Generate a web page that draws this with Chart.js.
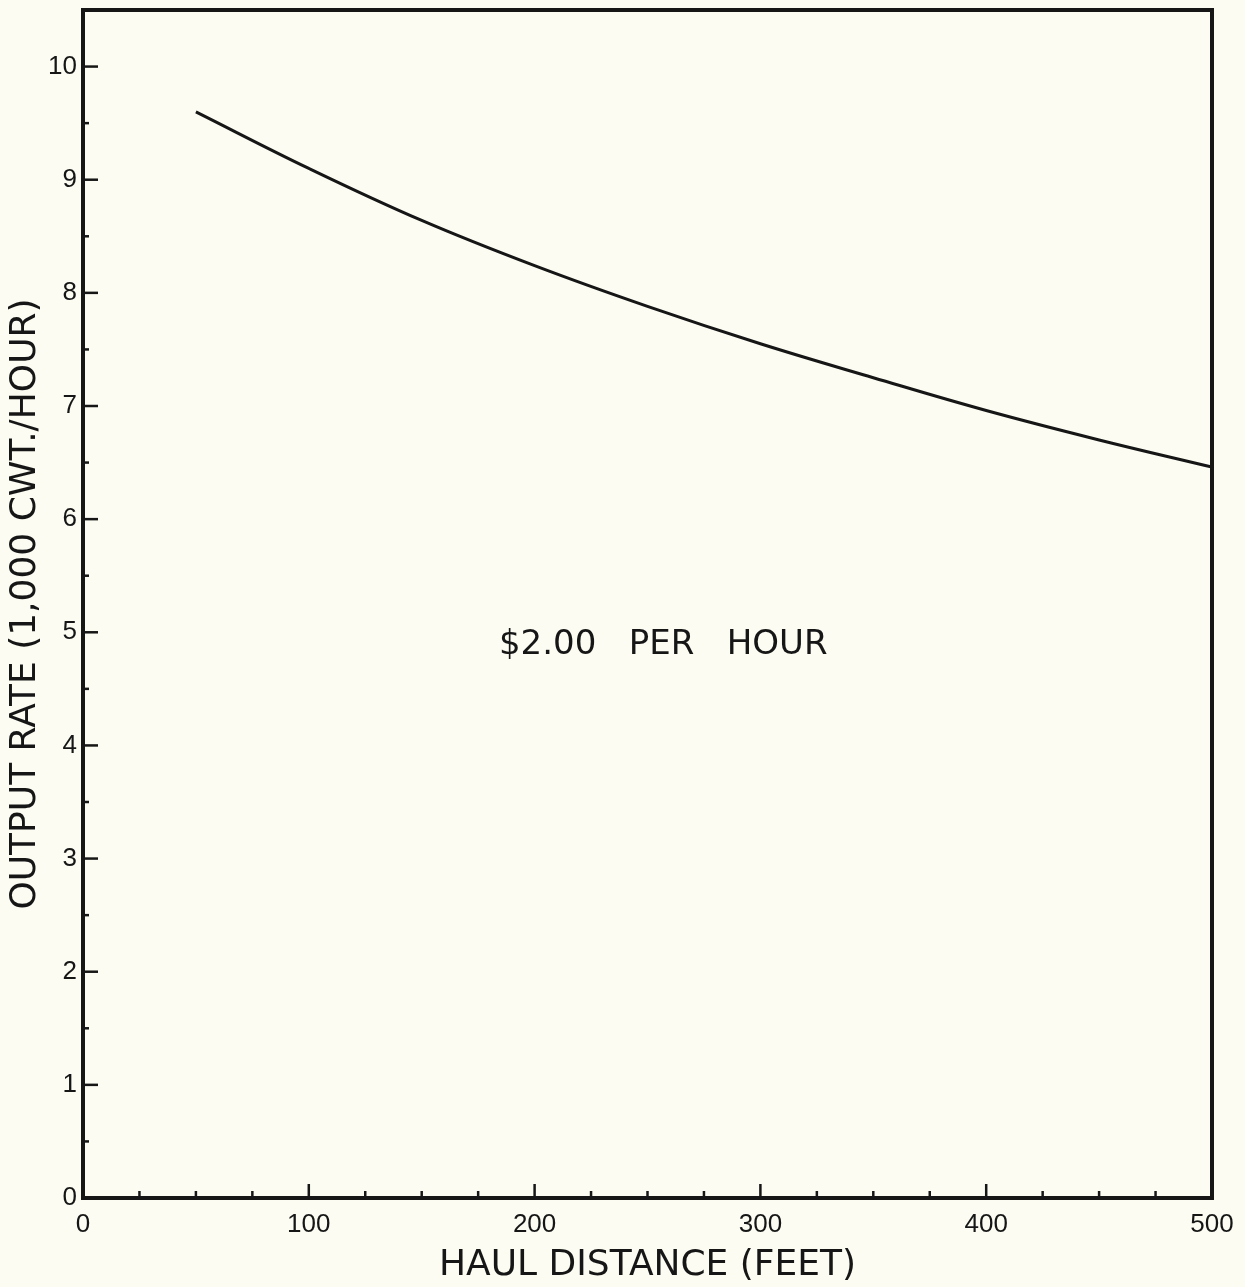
<!DOCTYPE html>
<html>
<head>
<meta charset="utf-8">
<title>Output rate vs haul distance</title>
<script src="https://cdn.jsdelivr.net/npm/chart.js@4.4.1/dist/chart.umd.min.js"></script>
<style>
  html, body { margin: 0; padding: 0; background: #fcfcf3; }
  #wrap { width: 1245px; height: 1287px; }
</style>
</head>
<body>
<div id="wrap"><canvas id="chart" width="1245" height="1287"></canvas></div>
<script>
// Haul distance (feet) and output rate (1,000 cwt./hour)
const haulDistance = [50, 100, 150, 200, 250, 300, 350, 400, 450, 500];
const outputRate   = [9.60, 9.10, 8.64, 8.24, 7.88, 7.55, 7.25, 6.96, 6.70, 6.46];

// Axis tick values
const xMajorTicks = [0, 100, 200, 300, 400, 500];
const xMinorTicks = [25, 50, 75, 125, 150, 175, 225, 250, 275, 325, 350, 375, 425, 450, 475];
const yMajorTicks = [0, 1, 2, 3, 4, 5, 6, 7, 8, 9, 10];
const yMinorTicks = [0.5, 1.5, 2.5, 3.5, 4.5, 5.5, 6.5, 7.5, 8.5, 9.5];

// Label placed inside the plot
const noteText = '$2.00   PER   HOUR';
const noteX = 257;
const noteY = 4.89;

const INK = '#161616';
const TICK_FONT = '"Liberation Sans", "DejaVu Sans", sans-serif';
const TITLE_FONT = '"DejaVu Sans", "Liberation Sans", sans-serif';

const framePlugin = {
  id: 'frame',
  beforeDraw(chart) {
    const ctx = chart.ctx;
    ctx.save();
    ctx.fillStyle = '#fcfcf3';
    ctx.fillRect(0, 0, chart.width, chart.height);
    ctx.restore();
  },
  afterDraw(chart) {
    const ctx = chart.ctx;
    const a = chart.chartArea;
    const xs = chart.scales.x, ys = chart.scales.y;
    ctx.save();
    ctx.strokeStyle = INK;
    ctx.lineCap = 'butt';

    // inward tick marks along the left and bottom axes
    ctx.lineWidth = 2.5;
    const tick = (px, len, horiz) => {
      ctx.beginPath();
      if (horiz) { ctx.moveTo(a.left, px); ctx.lineTo(a.left + len, px); }
      else { ctx.moveTo(px, a.bottom); ctx.lineTo(px, a.bottom - len); }
      ctx.stroke();
    };
    xMajorTicks.forEach(v => tick(xs.getPixelForValue(v), 14, false));
    xMinorTicks.forEach(v => tick(xs.getPixelForValue(v), 7, false));
    yMajorTicks.forEach(v => tick(ys.getPixelForValue(v), 15, true));
    yMinorTicks.forEach(v => tick(ys.getPixelForValue(v), 6, true));

    // plot frame
    ctx.lineWidth = 4;
    ctx.strokeRect(a.left, a.top, a.right - a.left, a.bottom - a.top);

    // in-plot label
    ctx.fillStyle = INK;
    ctx.font = '34px ' + TITLE_FONT;
    ctx.textAlign = 'center';
    ctx.textBaseline = 'middle';
    ctx.fillText(noteText, xs.getPixelForValue(noteX), ys.getPixelForValue(noteY));
    ctx.restore();
  }
};

new Chart(document.getElementById('chart'), {
  type: 'line',
  data: {
    datasets: [{
      data: haulDistance.map((d, i) => ({ x: d, y: outputRate[i] })),
      borderColor: INK,
      borderWidth: 3,
      pointRadius: 0,
      fill: false,
      tension: 0.4
    }]
  },
  options: {
    responsive: false,
    animation: false,
    devicePixelRatio: 1,
    layout: { padding: { top: 10, right: 33, left: 0, bottom: 0 } },
    plugins: { legend: { display: false }, tooltip: { enabled: false } },
    scales: {
      x: {
        type: 'linear',
        min: 0,
        max: 500,
        grid: { display: false, drawTicks: false },
        border: { display: false },
        afterBuildTicks(scale) { scale.ticks = xMajorTicks.map(v => ({ value: v })); },
        afterFit(scale) { scale.height = 89; scale.paddingLeft = 0; scale.paddingRight = 0; },
        ticks: {
          color: INK,
          padding: 11,
          font: { family: TICK_FONT, size: 26 },
          maxRotation: 0
        },
        title: {
          display: true,
          text: 'HAUL DISTANCE (FEET)',
          color: INK,
          font: { family: TITLE_FONT, size: 36 },
          padding: { top: 0, bottom: 0 }
        }
      },
      y: {
        type: 'linear',
        min: 0,
        max: 10.5,
        grid: { display: false, drawTicks: false },
        border: { display: false },
        afterBuildTicks(scale) { scale.ticks = yMajorTicks.map(v => ({ value: v })); },
        afterFit(scale) { scale.width = 83; scale.paddingTop = 0; scale.paddingBottom = 0; },
        ticks: {
          color: INK,
          padding: 6,
          font: { family: TICK_FONT, size: 26 }
        },
        title: {
          display: true,
          text: 'OUTPUT RATE (1,000 CWT./HOUR)',
          color: INK,
          font: { family: TITLE_FONT, size: 36 },
          padding: { top: 4, bottom: 0 }
        }
      }
    }
  },
  plugins: [framePlugin]
});
</script>
</body>
</html>
